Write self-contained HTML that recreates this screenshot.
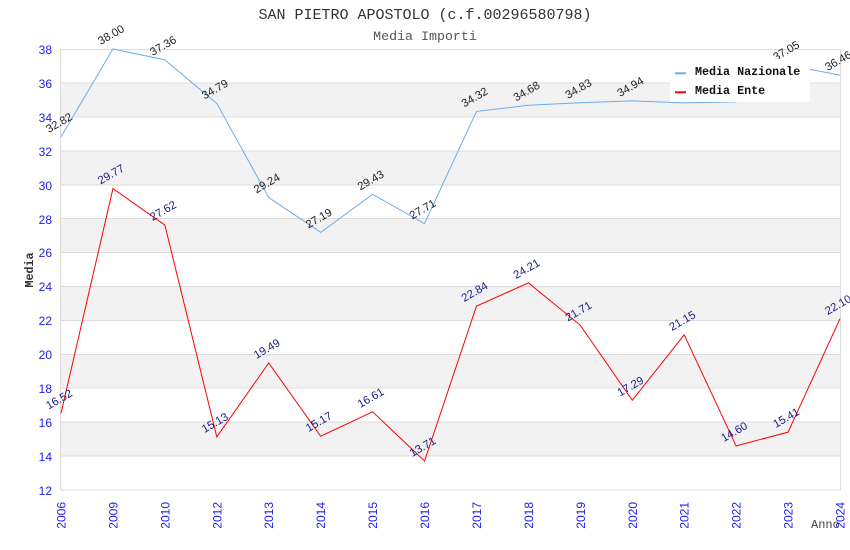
<!DOCTYPE html>
<html><head><meta charset="utf-8"><style>
html,body{margin:0;padding:0;background:#fff;}
svg{display:block;}
</style></head><body>
<svg width="850" height="550" viewBox="0 0 850 550" xmlns="http://www.w3.org/2000/svg">
<rect x="0" y="0" width="850" height="550" fill="#fff"/>
<!-- bands -->
<g fill="#f2f2f2">
<rect x="61" y="82.9" width="779" height="33.95"/>
<rect x="61" y="150.8" width="779" height="33.9"/>
<rect x="61" y="218.6" width="779" height="33.9"/>
<rect x="61" y="286.5" width="779" height="33.9"/>
<rect x="61" y="354.3" width="779" height="33.9"/>
<rect x="61" y="422.2" width="779" height="33.9"/>
</g>
<g stroke="#dcdcdc" stroke-width="1">
<line x1="61" y1="49.5" x2="840" y2="49.5"/>
<line x1="61" y1="83" x2="840" y2="83"/>
<line x1="61" y1="117" x2="840" y2="117"/>
<line x1="61" y1="151" x2="840" y2="151"/>
<line x1="61" y1="185" x2="840" y2="185"/>
<line x1="61" y1="218.5" x2="840" y2="218.5"/>
<line x1="61" y1="252.5" x2="840" y2="252.5"/>
<line x1="61" y1="286.5" x2="840" y2="286.5"/>
<line x1="61" y1="320.5" x2="840" y2="320.5"/>
<line x1="61" y1="354.5" x2="840" y2="354.5"/>
<line x1="61" y1="388" x2="840" y2="388"/>
<line x1="61" y1="422" x2="840" y2="422"/>
<line x1="61" y1="456" x2="840" y2="456"/>
<line x1="61" y1="490" x2="840" y2="490"/>
<line x1="60.5" y1="49" x2="60.5" y2="490"/>
<line x1="840.5" y1="49" x2="840.5" y2="490"/>
</g>
<!-- titles -->
<text x="425" y="19" text-anchor="middle" font-family="Liberation Mono, monospace" font-size="15" fill="#333">SAN PIETRO APOSTOLO (c.f.00296580798)</text>
<text x="425" y="40" text-anchor="middle" font-family="Liberation Mono, monospace" font-size="13.3" fill="#555">Media Importi</text>
<!-- y ticks -->
<g font-family="Liberation Sans, sans-serif" font-size="12" fill="#2020ee" text-anchor="end">
<text x="52" y="54">38</text>
<text x="52" y="88">36</text>
<text x="52" y="122">34</text>
<text x="52" y="156">32</text>
<text x="52" y="190">30</text>
<text x="52" y="224">28</text>
<text x="52" y="257">26</text>
<text x="52" y="291">24</text>
<text x="52" y="325">22</text>
<text x="52" y="359">20</text>
<text x="52" y="393">18</text>
<text x="52" y="427">16</text>
<text x="52" y="461">14</text>
<text x="52" y="495">12</text>
</g>
<!-- x ticks -->
<g font-family="Liberation Sans, sans-serif" font-size="12" fill="#2020ee" text-anchor="end">
<text transform="translate(65.5,502) rotate(-90)">2006</text>
<text transform="translate(117.4,502) rotate(-90)">2009</text>
<text transform="translate(169.4,502) rotate(-90)">2010</text>
<text transform="translate(221.3,502) rotate(-90)">2012</text>
<text transform="translate(273.2,502) rotate(-90)">2013</text>
<text transform="translate(325.2,502) rotate(-90)">2014</text>
<text transform="translate(377.1,502) rotate(-90)">2015</text>
<text transform="translate(429,502) rotate(-90)">2016</text>
<text transform="translate(481,502) rotate(-90)">2017</text>
<text transform="translate(532.9,502) rotate(-90)">2018</text>
<text transform="translate(584.8,502) rotate(-90)">2019</text>
<text transform="translate(636.8,502) rotate(-90)">2020</text>
<text transform="translate(688.7,502) rotate(-90)">2021</text>
<text transform="translate(740.6,502) rotate(-90)">2022</text>
<text transform="translate(792.6,502) rotate(-90)">2023</text>
<text transform="translate(844.5,502) rotate(-90)">2024</text>
</g>
<text transform="translate(33,270) rotate(-90)" text-anchor="middle" font-family="Liberation Mono, monospace" font-weight="bold" font-size="11.7" fill="#333">Media</text>
<text x="811" y="528" font-family="Liberation Mono, monospace" font-size="12" fill="#444">Anno</text>
<!-- series -->
<polyline fill="none" stroke="#6aaef0" stroke-width="1" points="61,136.85 112.93,49 164.87,59.85 216.8,103.44 268.73,197.58 320.67,232.35 372.6,194.35 424.53,223.53 476.47,111.41 528.4,105.3 580.33,102.76 632.27,100.89 684.2,102.9 736.13,101.9 788.07,65.1 840,75.11"/>
<polyline fill="none" stroke="#ff0000" stroke-width="1" points="61,413.33 112.93,188.59 164.87,225.05 216.8,436.91 268.73,362.95 320.67,436.23 372.6,411.81 424.53,461 476.47,306.13 528.4,282.89 580.33,325.3 632.27,400.27 684.2,334.8 736.13,445.9 788.07,432.16 840,318.68"/>
<!-- nazionale labels -->
<g font-family="Liberation Sans, sans-serif" font-size="11.3" fill="#222" text-anchor="middle">
<text transform="translate(61,126) rotate(-30)">32.82</text>
<text transform="translate(112.9,38) rotate(-30)">38.00</text>
<text transform="translate(164.9,49) rotate(-30)">37.36</text>
<text transform="translate(216.8,92.5) rotate(-30)">34.79</text>
<text transform="translate(268.7,186.5) rotate(-30)">29.24</text>
<text transform="translate(320.7,221.5) rotate(-30)">27.19</text>
<text transform="translate(372.6,183.5) rotate(-30)">29.43</text>
<text transform="translate(424.5,212.5) rotate(-30)">27.71</text>
<text transform="translate(476.5,100.5) rotate(-30)">34.32</text>
<text transform="translate(528.4,94.5) rotate(-30)">34.68</text>
<text transform="translate(580.3,92) rotate(-30)">34.83</text>
<text transform="translate(632.3,90) rotate(-30)">34.94</text>
<text transform="translate(788.1,54) rotate(-30)">37.05</text>
<text transform="translate(840,64) rotate(-30)">36.46</text>
</g>
<!-- ente labels -->
<g font-family="Liberation Sans, sans-serif" font-size="11.3" fill="#1a1a8a" text-anchor="middle">
<text transform="translate(61,402.5) rotate(-30)">16.52</text>
<text transform="translate(112.9,177.5) rotate(-30)">29.77</text>
<text transform="translate(164.9,214) rotate(-30)">27.62</text>
<text transform="translate(216.8,426) rotate(-30)">15.13</text>
<text transform="translate(268.7,352) rotate(-30)">19.49</text>
<text transform="translate(320.7,425) rotate(-30)">15.17</text>
<text transform="translate(372.6,401) rotate(-30)">16.61</text>
<text transform="translate(424.5,450) rotate(-30)">13.71</text>
<text transform="translate(476.5,295) rotate(-30)">22.84</text>
<text transform="translate(528.4,272) rotate(-30)">24.21</text>
<text transform="translate(580.3,314.5) rotate(-30)">21.71</text>
<text transform="translate(632.3,389.5) rotate(-30)">17.29</text>
<text transform="translate(684.2,324) rotate(-30)">21.15</text>
<text transform="translate(736.1,435) rotate(-30)">14.60</text>
<text transform="translate(788.1,421) rotate(-30)">15.41</text>
<text transform="translate(840,308) rotate(-30)">22.10</text>
</g>
<!-- legend -->
<rect x="670" y="59" width="140" height="43" fill="#fff"/>
<rect x="675" y="72.3" width="11" height="2" fill="#6aaef0"/>
<rect x="675" y="91.3" width="11" height="2" fill="#ff0000"/>
<g font-family="Liberation Mono, monospace" font-weight="bold" font-size="11.7" fill="#111">
<text x="695" y="75">Media Nazionale</text>
<text x="695" y="94">Media Ente</text>
</g>
</svg>
</body></html>
